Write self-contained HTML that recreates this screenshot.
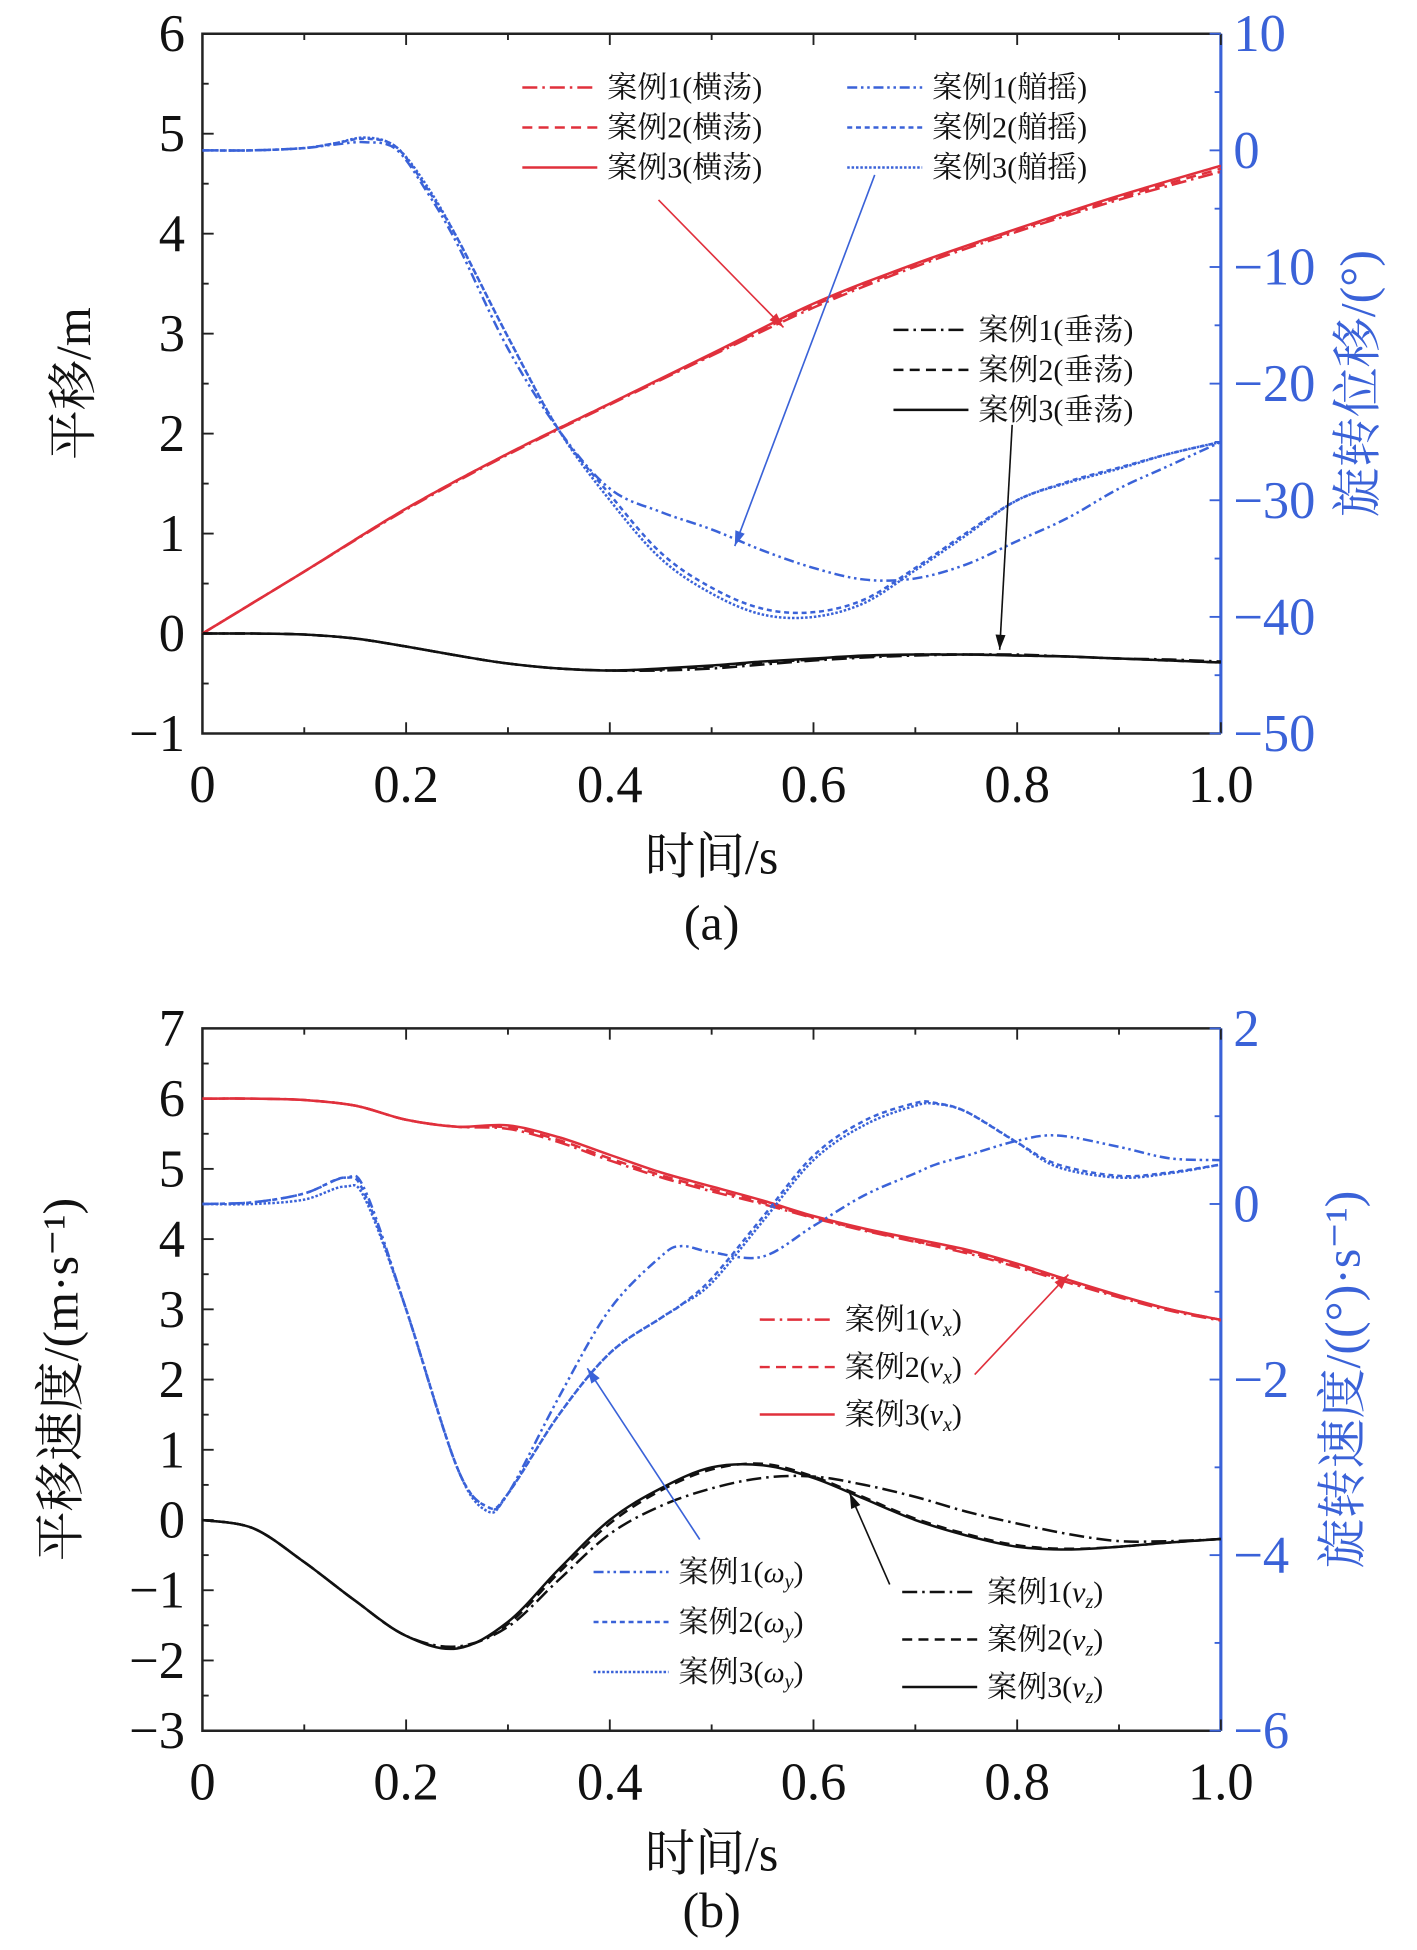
<!DOCTYPE html>
<html><head><meta charset="utf-8"><style>
html,body{margin:0;padding:0;background:#fff;}
svg{display:block;}
text{font-family:"Liberation Serif","Noto Serif CJK SC","Noto Sans CJK SC",serif;}
</style></head><body>
<svg id="fig" width="1417" height="1950" viewBox="0 0 1417 1950" xmlns="http://www.w3.org/2000/svg">
<g id="root" transform="scale(1.2496)"></g>
</svg>
<script>
// ---------- Panel (a) data ----------
const tA = [0,0.1,0.2,0.3,0.4,0.5,0.6,0.7,0.8,0.9,1.0];
const swayCase1 = [0,0.62,1.24,1.79,2.29,2.78,3.26,3.67,4.02,4.34,4.62];
const swayCase2 = [0,0.62,1.25,1.8,2.3,2.79,3.28,3.69,4.04,4.36,4.65];
const swayCase3 = [0,0.62,1.25,1.8,2.3,2.8,3.3,3.7,4.05,4.38,4.68];
const tHeaveA = [0,0.05,0.1,0.15,0.2,0.25,0.3,0.35,0.4,0.45,0.5,0.55,0.6,0.65,0.7,0.75,0.8,0.85,0.9,0.95,1.0];
const heaveCase1 = [0,0,-0.01,-0.05,-0.13,-0.22,-0.3,-0.35,-0.37,-0.37,-0.35,-0.31,-0.27,-0.24,-0.22,-0.21,-0.21,-0.23,-0.25,-0.26,-0.28];
const heaveCase2 = [0,0,-0.01,-0.05,-0.13,-0.22,-0.3,-0.35,-0.37,-0.36,-0.33,-0.29,-0.26,-0.23,-0.21,-0.21,-0.22,-0.23,-0.25,-0.27,-0.29];
const heaveCase3 = [0,0,-0.01,-0.05,-0.13,-0.22,-0.3,-0.35,-0.37,-0.35,-0.32,-0.28,-0.25,-0.22,-0.21,-0.21,-0.22,-0.23,-0.25,-0.27,-0.29];
const tPitch = [0,0.05,0.1,0.13,0.16,0.19,0.22,0.25,0.3,0.35,0.4,0.45,0.5,0.55,0.6,0.65,0.7,0.75,0.8,0.85,0.9,0.95,1.0];
const pitchCase1 = [0,0,0.2,0.5,0.7,0.1,-3.5,-8,-17,-24,-29,-31,-32.5,-34.3,-35.8,-36.8,-36.7,-35.5,-33.5,-31.5,-29,-27,-25];
const pitchCase2 = [0,0,0.2,0.6,1.0,0.3,-3.2,-7.5,-16,-24,-29.5,-34.5,-37.5,-39.3,-39.6,-38.5,-35.8,-32.8,-30,-28.4,-27.2,-26,-25];
const pitchCase3 = [0,0,0.2,0.6,1.1,0.3,-3,-7.5,-16,-24,-30,-35,-38,-39.8,-40,-38.8,-36,-33,-30,-28.5,-27.3,-26,-25];
// ---------- Panel (b) data ----------
const tB = [0,0.05,0.1,0.15,0.2,0.25,0.3,0.35,0.4,0.45,0.5,0.55,0.6,0.65,0.7,0.75,0.8,0.85,0.9,0.95,1.0];
const vxCase1 = [6,6,5.98,5.9,5.7,5.6,5.57,5.38,5.12,4.88,4.68,4.5,4.3,4.12,3.96,3.8,3.6,3.38,3.17,2.98,2.84];
const vxCase2 = [6,6,5.98,5.9,5.7,5.6,5.59,5.41,5.15,4.91,4.71,4.52,4.31,4.13,3.97,3.82,3.62,3.4,3.19,3.0,2.85];
const vxCase3 = [6,6,5.98,5.9,5.7,5.6,5.62,5.45,5.2,4.95,4.75,4.55,4.33,4.15,4.0,3.85,3.65,3.42,3.2,3.0,2.85];
const vzCase1 = [0,-0.12,-0.6,-1.15,-1.65,-1.8,-1.52,-0.85,-0.2,0.2,0.45,0.6,0.62,0.5,0.33,0.12,-0.05,-0.2,-0.3,-0.3,-0.27];
const vzCase2 = [0,-0.12,-0.6,-1.15,-1.65,-1.82,-1.48,-0.75,-0.05,0.42,0.72,0.8,0.62,0.32,0.02,-0.2,-0.36,-0.41,-0.38,-0.32,-0.27];
const vzCase3 = [0,-0.12,-0.6,-1.15,-1.65,-1.83,-1.45,-0.7,0.0,0.45,0.75,0.78,0.6,0.3,0.0,-0.22,-0.38,-0.42,-0.38,-0.32,-0.27];
const tOmega = [0,0.05,0.1,0.14,0.16,0.2,0.25,0.28,0.3,0.35,0.4,0.45,0.47,0.5,0.55,0.6,0.65,0.7,0.72,0.75,0.8,0.84,0.9,0.95,1.0];
const omegaCase1 = [0,0.02,0.12,0.3,0.15,-1.2,-3.0,-3.45,-3.3,-2.2,-1.2,-0.6,-0.48,-0.55,-0.6,-0.25,0.1,0.35,0.45,0.55,0.72,0.78,0.65,0.52,0.5];
const omegaCase2 = [0,0.02,0.12,0.3,0.1,-1.2,-3.0,-3.45,-3.3,-2.4,-1.7,-1.3,-1.15,-0.85,-0.15,0.55,0.95,1.15,1.15,1.05,0.7,0.45,0.32,0.36,0.45];
const omegaCase3 = [0,0.0,0.05,0.2,0.05,-1.2,-3.0,-3.5,-3.3,-2.4,-1.7,-1.3,-1.15,-0.9,-0.2,0.5,0.9,1.12,1.14,1.05,0.7,0.42,0.3,0.35,0.45];

const NS='http://www.w3.org/2000/svg';
const root=document.getElementById('root');
function mk(tag,attrs,parent){const e=document.createElementNS(NS,tag);for(const k in attrs)e.setAttribute(k,attrs[k]);(parent||root).appendChild(e);return e;}
function txt(s,x,y,size,fill,anchor,parent){const e=mk('text',{x:x,y:y,'font-size':size,fill:fill||'#111','text-anchor':anchor||'middle'},parent);e.textContent=s;return e;}
function pathD(xs,ys,sx,sy){const P=xs.map((t,i)=>[sx(t),sy(ys[i])]);let d='M'+P[0][0].toFixed(1)+','+P[0][1].toFixed(1);
 for(let i=0;i<P.length-1;i++){const p0=P[Math.max(0,i-1)],p1=P[i],p2=P[i+1],p3=P[Math.min(P.length-1,i+2)];
 const c1=[p1[0]+(p2[0]-p0[0])/6,p1[1]+(p2[1]-p0[1])/6],c2=[p2[0]-(p3[0]-p1[0])/6,p2[1]-(p3[1]-p1[1])/6];
 d+='C'+c1[0].toFixed(1)+','+c1[1].toFixed(1)+' '+c2[0].toFixed(1)+','+c2[1].toFixed(1)+' '+p2[0].toFixed(1)+','+p2[1].toFixed(1);}return d;}
const RED='#e0303c',BLUE='#3a62d8',BLACK='#111';
const dash={c1:'12,4,2,4',c2:'8,5',c3:'',b1:'8,3,2,3,2,3',b2:'4,3',b3:'2,1.5'};

function panel(o){
 const L=162,R=977,T=o.top,B=o.bottom;
 const sx=t=>L+(R-L)*t;
 const syL=v=>B-(v-o.lmin)/(o.lmax-o.lmin)*(B-T);
 const syR=v=>B-(v-o.rmin)/(o.rmax-o.rmin)*(B-T);
 const g=mk('g',{});
 
 
 mk('path',{d:`M${R},${T}H${L}V${B}H${R}`,fill:'none',stroke:'#222','stroke-width':2},g);
 mk('line',{x1:R,y1:T,x2:R,y2:B,stroke:BLUE,'stroke-width':2.5},g);
 for(let i=0;i<=10;i++){const x=sx(i/10),len=i%2?5:9;
  mk('line',{x1:x,y1:B,x2:x,y2:B-len,stroke:'#222','stroke-width':1.5},g);
  mk('line',{x1:x,y1:T,x2:x,y2:T+len,stroke:'#222','stroke-width':1.5},g);
  if(i%2==0){const l=txt(i==0?'0':(i==10?'1.0':(i/10).toFixed(1)),x,B+55,42,'#111','middle',g);}}
 for(let v=o.lmin;v<=o.lmax+1e-9;v+=0.5){const y=syL(v),maj=Math.abs(v-Math.round(v))<1e-6;
  mk('line',{x1:L,y1:y,x2:L+(maj?9:5),y2:y,stroke:'#222','stroke-width':1.5},g);
  if(maj){const l=txt(v<0?'−'+(-v):String(v),L-14,y+14,42,'#111','end',g);}}
 for(let v=o.rmin;v<=o.rmax+1e-9;v+=o.rstep/2){const y=syR(v),maj=Math.abs((v-o.rmin)/o.rstep-Math.round((v-o.rmin)/o.rstep))<1e-6;
  mk('line',{x1:R,y1:y,x2:R-(maj?9:5),y2:y,stroke:BLUE,'stroke-width':1.5},g);
  if(maj){const l=txt(v<0?'−'+(-v):String(v),R+10,y+14,42,BLUE,'start',g);}}
 const xt=txt('时间/s',(L+R)/2,B+112,40,'#111','middle',g);
 const lt=txt(o.ltitle,0,0,40,'#111','middle',g);lt.setAttribute('transform',`translate(${o.lx},${(T+B)/2}) rotate(-90)`);
 
 const rt=txt(o.rtitle,0,0,40,BLUE,'middle',g);rt.setAttribute('transform',`translate(${o.rx},${(T+B)/2}) rotate(-90)`);
 
 const cap=txt(o.cap,(L+R)/2,B+o.capdy,40,'#111','middle',g);
 o.series.forEach(s=>{const p=mk('path',{d:pathD(s.t,s.v,sx,s.axis=='r'?syR:syL),fill:'none',stroke:s.c,'stroke-width':s.w||2,'stroke-dasharray':s.d},g);
  });
 return g;
}
function legend(x,y,items,g){items.forEach((it,i)=>{const yy=y+i*it.gap;
 const ln=mk('line',{x1:x,y1:yy,x2:x+60,y2:yy,stroke:it.c,'stroke-width':2,'stroke-dasharray':it.d},g);
 
 const t=mk('text',{x:x+68,y:yy+8,'font-size':24,fill:'#111'},g);t.innerHTML=it.label;
 });}
function arrow(x1,y1,x2,y2,c,g){const a=mk('line',{x1:x1,y1:y1,x2:x2,y2:y2,stroke:c,'stroke-width':1.3},g);
 
 const ang=Math.atan2(y2-y1,x2-x1),h=12,w=4;
 const p=[[x2,y2],[x2-h*Math.cos(ang)+w*Math.sin(ang),y2-h*Math.sin(ang)-w*Math.cos(ang)],[x2-h*Math.cos(ang)-w*Math.sin(ang),y2-h*Math.sin(ang)+w*Math.cos(ang)]];
 const hd=mk('polygon',{points:p.map(q=>q.join(',')).join(' '),fill:c},g);}

const gA=panel({name:'chart-a',top:27,bottom:587,lmin:-1,lmax:6,rmin:-50,rmax:10,rstep:10,lx:72,rx:1100,capdy:165,
 ltitle:'平移/m',rtitle:'旋转位移/(°)',cap:'(a)',series:[
 {name:'sway-case1',t:tA,v:swayCase1,c:RED,d:dash.c1},{name:'sway-case2',t:tA,v:swayCase2,c:RED,d:dash.c2},{name:'sway-case3',t:tA,v:swayCase3,c:RED,d:dash.c3},
 {name:'heave-case1',t:tHeaveA,v:heaveCase1,c:BLACK,d:dash.c1},{name:'heave-case2',t:tHeaveA,v:heaveCase2,c:BLACK,d:dash.c2},{name:'heave-case3',t:tHeaveA,v:heaveCase3,c:BLACK,d:dash.c3},
 {name:'pitch-case1',t:tPitch,v:pitchCase1,c:BLUE,d:dash.b1,axis:'r'},{name:'pitch-case2',t:tPitch,v:pitchCase2,c:BLUE,d:dash.b2,axis:'r'},{name:'pitch-case3',t:tPitch,v:pitchCase3,c:BLUE,d:dash.b3,axis:'r'}]});
legend(418,70,[{c:RED,d:dash.c1,label:'案例1(横荡)',gap:32},{c:RED,d:dash.c2,label:'案例2(横荡)',gap:32},{c:RED,d:dash.c3,label:'案例3(横荡)',gap:32}],gA);
legend(678,70,[{c:BLUE,d:dash.b1,label:'案例1(艏摇)',gap:32},{c:BLUE,d:dash.b2,label:'案例2(艏摇)',gap:32},{c:BLUE,d:dash.b3,label:'案例3(艏摇)',gap:32}],gA);
legend(715,264,[{c:BLACK,d:dash.c1,label:'案例1(垂荡)',gap:32},{c:BLACK,d:dash.c2,label:'案例2(垂荡)',gap:32},{c:BLACK,d:dash.c3,label:'案例3(垂荡)',gap:32}],gA);
arrow(527,160,627,262,RED,gA);arrow(700,140,588,437,BLUE,gA);arrow(810,340,800,520,BLACK,gA);

const gB=panel({name:'chart-b',top:823,bottom:1385,lmin:-3,lmax:7,rmin:-6,rmax:2,rstep:2,lx:62,rx:1088,capdy:157,
 ltitle:'平移速度/(m·s⁻¹)',rtitle:'旋转速度/((°)·s⁻¹)',cap:'(b)',series:[
 {name:'vx-case1',t:tB,v:vxCase1,c:RED,d:dash.c1},{name:'vx-case2',t:tB,v:vxCase2,c:RED,d:dash.c2},{name:'vx-case3',t:tB,v:vxCase3,c:RED,d:dash.c3},
 {name:'vz-case1',t:tB,v:vzCase1,c:BLACK,d:dash.c1},{name:'vz-case2',t:tB,v:vzCase2,c:BLACK,d:dash.c2},{name:'vz-case3',t:tB,v:vzCase3,c:BLACK,d:dash.c3},
 {name:'omega-case1',t:tOmega,v:omegaCase1,c:BLUE,d:dash.b1,axis:'r'},{name:'omega-case2',t:tOmega,v:omegaCase2,c:BLUE,d:dash.b2,axis:'r'},{name:'omega-case3',t:tOmega,v:omegaCase3,c:BLUE,d:dash.b3,axis:'r'}]});
legend(608,1056,[{c:RED,d:dash.c1,label:'案例1(<tspan font-style="italic">v<tspan font-size="16" dy="5">x</tspan></tspan><tspan dy="-5">)</tspan>',gap:38},{c:RED,d:dash.c2,label:'案例2(<tspan font-style="italic">v<tspan font-size="16" dy="5">x</tspan></tspan><tspan dy="-5">)</tspan>',gap:38},{c:RED,d:dash.c3,label:'案例3(<tspan font-style="italic">v<tspan font-size="16" dy="5">x</tspan></tspan><tspan dy="-5">)</tspan>',gap:38}],gB);
legend(475,1258,[{c:BLUE,d:dash.b1,label:'案例1(<tspan font-style="italic">ω<tspan font-size="16" dy="5">y</tspan></tspan><tspan dy="-5">)</tspan>',gap:40},{c:BLUE,d:dash.b2,label:'案例2(<tspan font-style="italic">ω<tspan font-size="16" dy="5">y</tspan></tspan><tspan dy="-5">)</tspan>',gap:40},{c:BLUE,d:dash.b3,label:'案例3(<tspan font-style="italic">ω<tspan font-size="16" dy="5">y</tspan></tspan><tspan dy="-5">)</tspan>',gap:40}],gB);
legend(722,1274,[{c:BLACK,d:dash.c1,label:'案例1(<tspan font-style="italic">v<tspan font-size="16" dy="5">z</tspan></tspan><tspan dy="-5">)</tspan>',gap:38},{c:BLACK,d:dash.c2,label:'案例2(<tspan font-style="italic">v<tspan font-size="16" dy="5">z</tspan></tspan><tspan dy="-5">)</tspan>',gap:38},{c:BLACK,d:dash.c3,label:'案例3(<tspan font-style="italic">v<tspan font-size="16" dy="5">z</tspan></tspan><tspan dy="-5">)</tspan>',gap:38}],gB);
arrow(780,1100,855,1020,RED,gB);arrow(560,1232,470,1095,BLUE,gB);arrow(712,1268,680,1195,BLACK,gB);
</script>
</body></html>
